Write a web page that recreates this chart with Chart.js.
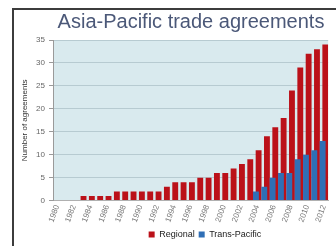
<!DOCTYPE html>
<html><head><meta charset="utf-8">
<script src="https://cdn.jsdelivr.net/npm/chart.js@4"></script>
<style>
html,body{margin:0;padding:0;background:#fff;overflow:hidden}
#wrap{position:relative;width:336px;height:246px;overflow:hidden}
#frame{position:absolute;left:12px;top:8px;width:400px;height:400px;border:2px solid #3c3c3c;box-sizing:border-box}
canvas{position:absolute;left:0;top:0}
</style></head><body>
<div id="wrap"><div id="frame"></div><canvas id="c" width="336" height="246"></canvas></div>
<script>
const years = ['1980','1981','1982','1983','1984','1985','1986','1987','1988','1989','1990','1991','1992','1993','1994','1995','1996','1997','1998','1999','2000','2001','2002','2003','2004','2005','2006','2007','2008','2009','2010','2011','2012'];
const regional = [0,0,0,1,1,1,1,2,2,2,2,2,2,3,4,4,4,5,5,6,6,7,8,9,11,14,16,18,24,29,32,33,34];
const transPacific = [0,0,0,0,0,0,0,0,0,0,0,0,0,0,0,0,0,0,0,0,0,0,0,0,2,3,5,6,6,9,10,11,13];
const yMin = 0, yMax = 35, yStep = 5;
const seriesNames = ['Regional','Trans-Pacific'];
const chartTitle = 'Asia-Pacific trade agreements';
const yTitle = 'Number of agreements';

Chart.defaults.font.family = '"Liberation Sans", Arial, sans-serif';

const plotBg = {
  id: 'plotBg',
  beforeDraw(chart) {
    const {ctx, chartArea: a} = chart;
    ctx.save();
    ctx.fillStyle = '#d9eaee';
    ctx.fillRect(a.left, a.top, a.right - a.left, a.bottom - a.top);
    ctx.restore();
  }
};
const shiftBlocks = {
  id: 'shiftBlocks',
  afterLayout(chart) {
    const t = chart.titleBlock;
    if (t) { const d = 191 - (t.left + t.right) / 2; t.left += d; t.right += d; }
    const l = chart.legend;
    if (l) { const d = 205 - (l.left + l.right) / 2; l.left += d; l.right += d; l.top += 3; l.bottom += 3; }
  }
};

new Chart(document.getElementById('c'), {
  type: 'bar',
  data: {
    labels: years,
    datasets: [
      { label: seriesNames[0], data: regional, backgroundColor: '#bb1119', order: 2, categoryPercentage: 0.64, barPercentage: 2.2 },
      { label: seriesNames[1], data: transPacific, backgroundColor: '#2f6fb6', order: 1, categoryPercentage: 0.64, barPercentage: 2.2 }
    ]
  },
  options: {
    responsive: false,
    animation: false,
    devicePixelRatio: 1,
    layout: { padding: { left: 14, right: 0, top: 0, bottom: 0 } },
    plugins: {
      title: { display: true, text: chartTitle, color: '#4b5878', font: { size: 20, weight: 'normal' }, padding: { top: 10, bottom: 6 } },
      legend: { position: 'bottom', labels: { boxWidth: 6, boxHeight: 6, padding: 4, color: '#222', font: { size: 9 },
        sort: (a, b) => a.datasetIndex - b.datasetIndex } },
      tooltip: { enabled: false }
    },
    scales: {
      x: {
        grid: { display: false, drawTicks: false },
        border: { display: true, color: '#b0b0b0' },
        ticks: { autoSkip: false, minRotation: 70, maxRotation: 70, padding: 3, color: '#777', font: { size: 8 },
          callback: (v, i) => (i % 2 === 0 ? years[i] : '') },
        afterFit: s => { s.height = 22.4; }
      },
      y: {
        min: yMin, max: yMax,
        ticks: { stepSize: yStep, padding: 4, color: '#666', font: { size: 8 } },
        grid: { color: '#b7cbd1', tickColor: '#9a9a9a', tickLength: 4 },
        border: { display: true, color: '#9a9a9a' },
        title: { display: true, text: yTitle, color: '#333', font: { size: 8 }, padding: { top: 6, bottom: 0 } },
        afterFit: s => { s.width = 39; }
      }
    }
  },
  plugins: [plotBg, shiftBlocks]
});
</script>
</body></html>
